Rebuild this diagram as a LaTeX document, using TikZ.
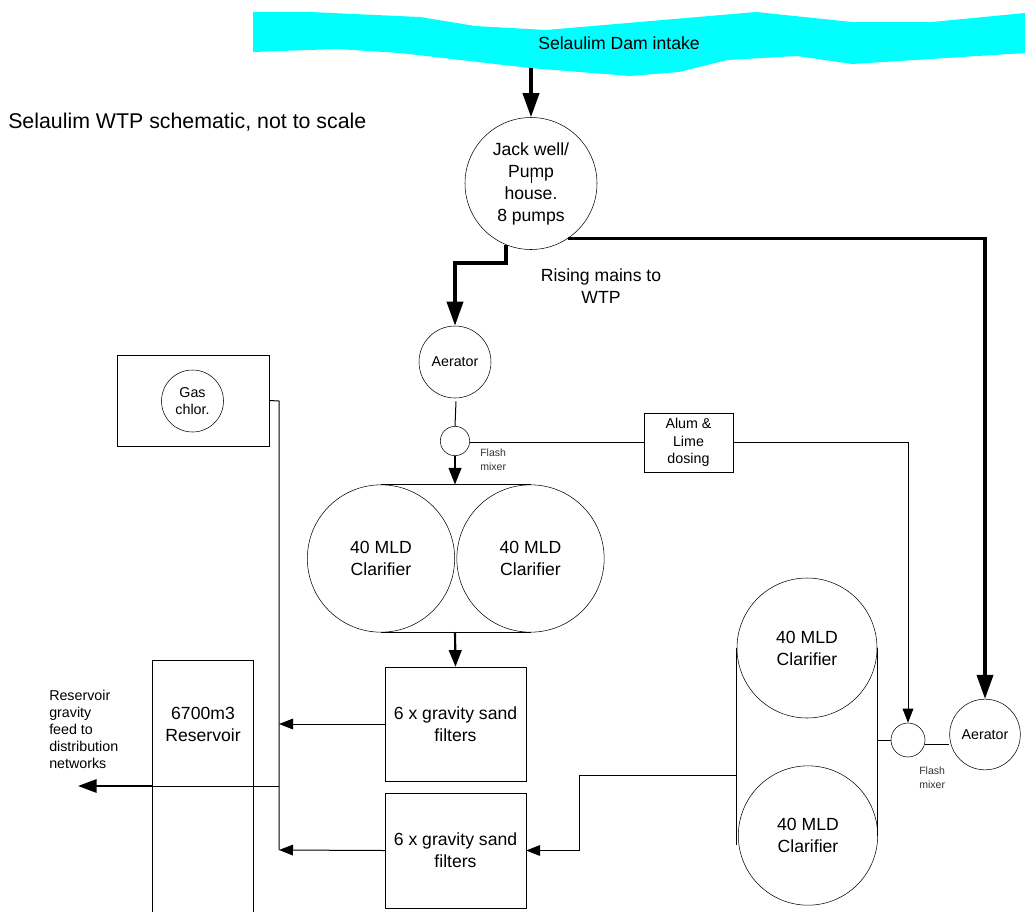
\documentclass[tikz,border=0pt]{standalone}
\usepackage{fontspec}
\setmainfont{Liberation Sans}
\usepackage{xcolor}
\usetikzlibrary{arrows.meta,calc,positioning}
\definecolor{intake}{RGB}{0,255,255}
\definecolor{linegray}{RGB}{50,50,50}

\begin{document}
\begin{tikzpicture}[
  x=0.75pt, y=-0.75pt,
  font=\fontsize{13.2}{16.5}\selectfont,
  unit/.style={circle, draw, inner sep=0pt, align=center},
  tank/.style={draw, inner sep=0pt, align=center},
  small/.style={font=\fontsize{10.7}{13.2}\selectfont},
  tiny/.style={font=\fontsize{7.9}{10.5}\selectfont, align=left, text=linegray},
  pipe/.style={line width=0.75pt},
  feed/.style={pipe, -{Triangle[length=10.5pt, width=8pt]}},
  main/.style={line width=2.7pt, -{Triangle[length=18pt, width=12pt]}},
  drop/.style={line width=1.6pt, -{Triangle[length=12.5pt, width=9.5pt]}}
]
\clip (0,0) rectangle (1025,911);

% dam and title
\fill[intake] (253,12) -- (310,12) -- (420,17) -- (475,26) -- (546,30) -- (756,12)
  -- (852,22) -- (932,22) -- (1025,13) -- (1025,53) -- (852,64) -- (797,56) -- (727,60)
  -- (679,72) -- (630,76) -- (530,68) -- (400,53) -- (337,49) -- (253,52) -- cycle;
\node (dam) at (619,43) {Selaulim Dam intake};
\coordinate (damout) at (531,68);
\node[anchor=west, inner sep=0pt, font=\fontsize{16}{19}\selectfont] (title) at (8,122) {Selaulim WTP schematic, not to scale};

% pump house and first stream
\node[unit, minimum size=99pt] (jack) at (531,183.5) {Jack well/\\Pump\\house.\\8 pumps};
\node[align=center] (rising) at (601,286) {Rising mains to\\WTP};
\node[unit, small, minimum size=54pt] (aerleft) at (455,362) {Aerator};
\node[unit, minimum size=22pt] (flashleft) at (455,441) {};
\node[tiny, anchor=north west, inner sep=0pt] (flashlefttxt) at (480,449) {Flash\\mixer};
\node[tank, small, minimum width=66.5pt, minimum height=44.5pt] (dose) at (688.5,442.5) {Alum \&\\Lime\\dosing};
\node[unit, minimum size=110.5pt] (clara) at (381,558.5) {40 MLD\\Clarifier};
\node[unit, minimum size=110.5pt] (clarb) at (530.5,558.5) {40 MLD\\Clarifier};
\node[tank, minimum width=105.5pt, minimum height=85.5pt] (filtera) at (455.5,724) {6 x gravity sand\\filters};
\node[tank, minimum width=105.5pt, minimum height=86pt] (filterb) at (455.5,850.5) {6 x gravity sand\\filters};

% second stream
\node[unit, small, minimum size=53pt] (aerright) at (985,734.5) {Aerator};
\node[unit, minimum size=25.5pt] (flashright) at (908,740) {};
\node[tiny, anchor=north west, inner sep=0pt] (flashrighttxt) at (919,767) {Flash\\mixer};
\node[unit, minimum size=105pt] (clarc) at (807,648) {40 MLD\\Clarifier};
\node[unit, minimum size=104.5pt] (clard) at (808,835.5) {40 MLD\\Clarifier};

% chlorine and reservoir
\node[tank, minimum width=114pt, minimum height=68.5pt] (gasbox) at (193,400.5) {};
\node[unit, small, minimum size=46.5pt] (gas) at (192.5,401) {Gas\\chlor.};
\node[tank, minimum width=75.5pt, minimum height=199.5pt] (res) at (203,793) {};
\node[align=center] (restxt) at (203,724) {6700m3\\Reservoir};
\node[align=left, anchor=north west, inner sep=0pt,
  font=\fontsize{10.7}{12.75}\selectfont] (restxtb) at (49,690) {Reservoir\\gravity\\feed to\\distribution\\networks};

% thick mains
\draw[main] (damout) -- (jack.north);
\draw[main] (jack.-112) -- ++(0,18) -| (aerleft.north);
\draw[main] (jack.-56) -| (aerright.north);

% process connections
\coordinate (jacktick) at (531,175);
\draw[pipe] (jacktick) -- ++(0,8);
\draw[pipe] (aerleft.south) ++(1,3) -- (flashleft.north);
\draw[drop] (flashleft.south) -- (flashleft.south |- clara.north);
\draw[pipe] (flashleft.-6) -- (flashleft.-6 -| dose.west);
\draw[feed] (dose.east) -| (flashright.north);
\draw[pipe] (clara.north) -- (clarb.north);
\draw[pipe] (clara.south) -- (clarb.south);
\draw[drop] (455,632) -- (filtera.north);
\draw[pipe] (clarc.west) -- (clarc.west |- 0,845);
\draw[pipe] (clarc.east) -- (clarc.east |- clard.center);
\draw[pipe] (flashright.west) -- (flashright.west -| clarc.east);
\draw[pipe] (flashright.-15) -- (flashright.-15 -| aerright.west);
\coordinate (clarout) at (737,775);
\draw[feed] (clarout) -- (579,775) |- (filterb.east);
\draw[feed] (filtera.west) -- (279,724);
\draw[feed] (filterb.west) -- (279,850);
\draw[pipe] (gasbox.east) -- (279,401) -- (279,850);
\draw[pipe] (279,786) -- (res.west |- 279,786);
\coordinate (netout) at (78,786);
\draw[line width=1.6pt, -{Triangle[length=14pt, width=10pt]}] (res.west |- netout) -- (netout);
\end{tikzpicture}
\end{document}
